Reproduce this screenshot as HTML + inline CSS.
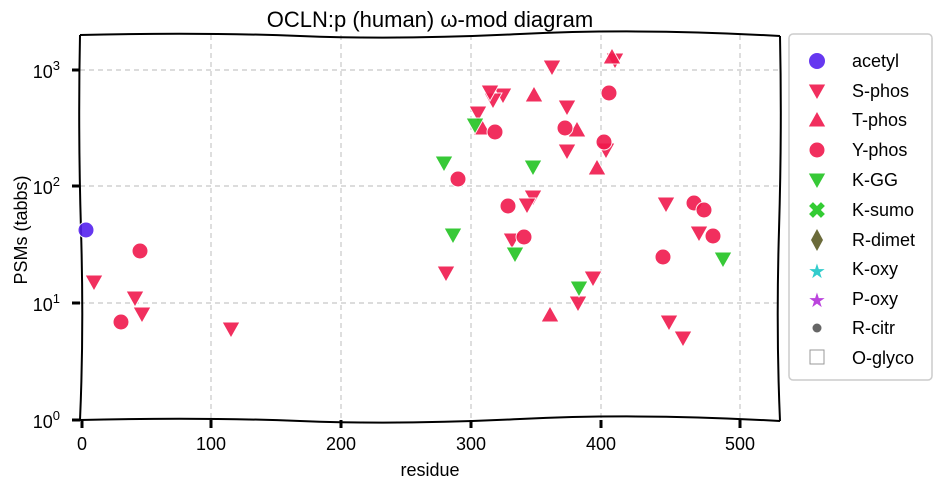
<!DOCTYPE html>
<html><head><meta charset="utf-8"><style>
body{margin:0;background:#fff;}
svg{display:block;font-family:"Comic Sans MS","Liberation Sans",sans-serif;}
</style></head><body>
<svg width="941" height="492" viewBox="0 0 941 492">
<defs>
<g id="dt"><polygon points="-9,-7 9,-7 0,9" fill="#f0194d" stroke="#fff" stroke-width="1" opacity="0.9"/></g>
<g id="ut"><polygon points="-9,7 9,7 0,-9" fill="#f0194d" stroke="#fff" stroke-width="1" opacity="0.9"/></g>
<g id="gt"><polygon points="-9,-7 9,-7 0,9" fill="#22c422" stroke="#fff" stroke-width="1" opacity="0.9"/></g>
<g id="rc"><circle r="8" fill="#f0194d" stroke="#fff" stroke-width="1" opacity="0.9"/></g>
</defs>
<g stroke="#c8c8c8" stroke-dasharray="5,4" stroke-width="1.2" fill="none">
<line x1="211" y1="35" x2="211" y2="420"/><line x1="341" y1="35" x2="341" y2="420"/>
<line x1="471" y1="35" x2="471" y2="420"/><line x1="601" y1="35" x2="601" y2="420"/>
<line x1="740" y1="35" x2="740" y2="420"/>
<line x1="80" y1="70" x2="780" y2="70"/><line x1="80" y1="186" x2="780" y2="186"/>
<line x1="80" y1="303" x2="780" y2="303"/>
</g>
<g stroke="#000" stroke-width="2" fill="none">
<path d="M80,35 Q200,32 300,36 T520,34 T780,36"/>
<path d="M80,420 Q200,417 300,421 T520,419 T780,421"/>
<path d="M80,35 Q78,130 81,230 T80,420"/>
<path d="M780,36 Q782,130 779,230 T780,421"/>
</g>
<g stroke="#000" stroke-width="3">
<line x1="82" y1="420" x2="82" y2="428"/><line x1="211" y1="420" x2="211" y2="428"/>
<line x1="341" y1="420" x2="341" y2="428"/><line x1="471" y1="420" x2="471" y2="428"/>
<line x1="601" y1="420" x2="601" y2="428"/><line x1="740" y1="420" x2="740" y2="428"/>
<line x1="72" y1="420" x2="80" y2="420"/><line x1="72" y1="303" x2="80" y2="303"/>
<line x1="72" y1="186" x2="80" y2="186"/><line x1="72" y1="70" x2="80" y2="70"/>
</g>
<g font-size="18" fill="#000" text-anchor="middle">
<text x="82" y="450">0</text><text x="211" y="450">100</text><text x="341" y="450">200</text>
<text x="471" y="450">300</text><text x="601" y="450">400</text><text x="740" y="450">500</text>
</g>
<g font-size="18" fill="#000" text-anchor="end">
<text x="60" y="428">10<tspan font-size="13" dy="-8">0</tspan></text>
<text x="60" y="311">10<tspan font-size="13" dy="-8">1</tspan></text>
<text x="60" y="194">10<tspan font-size="13" dy="-8">2</tspan></text>
<text x="60" y="78">10<tspan font-size="13" dy="-8">3</tspan></text>
</g>
<text x="430" y="476" font-size="18" text-anchor="middle">residue</text>
<text x="27" y="230" font-size="18" text-anchor="middle" transform="rotate(-90 27 230)">PSMs (tabbs)</text>
<text x="430" y="27" font-size="22" text-anchor="middle">OCLN:p (human) ω-mod diagram</text>
<circle cx="86" cy="230" r="8" fill="#5522ee" opacity="0.9" stroke="#fff"/>
<use href="#rc" x="140" y="251"/><use href="#dt" x="94" y="282"/><use href="#dt" x="135" y="298"/>
<use href="#dt" x="142" y="314"/><use href="#rc" x="121" y="322"/><use href="#dt" x="231" y="329"/>
<use href="#dt" x="552" y="67"/><use href="#dt" x="503" y="95"/><use href="#dt" x="493" y="100"/>
<use href="#dt" x="490" y="92"/><use href="#dt" x="478" y="113"/><use href="#dt" x="567" y="107"/>
<use href="#dt" x="567" y="151"/><use href="#dt" x="533" y="197"/><use href="#dt" x="527" y="205"/>
<use href="#dt" x="446" y="273"/><use href="#dt" x="593" y="278"/><use href="#dt" x="578" y="303"/>
<use href="#dt" x="615" y="60"/><use href="#dt" x="606" y="150"/><use href="#dt" x="512" y="240"/>
<use href="#ut" x="612" y="57"/><use href="#ut" x="534" y="95"/><use href="#ut" x="577" y="130"/>
<use href="#ut" x="482" y="128"/><use href="#ut" x="597" y="168"/><use href="#ut" x="550" y="315"/>
<use href="#rc" x="609" y="93"/><use href="#rc" x="495" y="132"/><use href="#rc" x="458" y="179"/>
<use href="#rc" x="565" y="128"/><use href="#rc" x="604" y="142"/><use href="#rc" x="508" y="206"/>
<use href="#rc" x="524" y="237"/>
<use href="#gt" x="444" y="163"/><use href="#gt" x="453" y="235"/><use href="#gt" x="475" y="125"/>
<use href="#gt" x="533" y="167"/><use href="#gt" x="515" y="254"/><use href="#gt" x="579" y="288"/>
<use href="#dt" x="666" y="204"/><use href="#rc" x="694" y="203"/><use href="#rc" x="704" y="210"/>
<use href="#dt" x="699" y="233"/><use href="#rc" x="713" y="236"/><use href="#gt" x="723" y="259"/>
<use href="#rc" x="663" y="257"/><use href="#dt" x="669" y="322"/><use href="#dt" x="683" y="338"/>
<rect x="789" y="34" width="143" height="346" rx="4" fill="#fff" stroke="#ccc" stroke-width="1.5"/>
<g font-size="18" fill="#000">
<circle cx="817" cy="61" r="8" fill="#5522ee" opacity="0.9"/><text x="852" y="67">acetyl</text>
<use href="#dt" x="817" y="91"/><text x="852" y="97">S-phos</text>
<use href="#ut" x="817" y="120"/><text x="852" y="126">T-phos</text>
<use href="#rc" x="817" y="150"/><text x="852" y="156">Y-phos</text>
<use href="#gt" x="817" y="180"/><text x="852" y="186">K-GG</text>
<text x="817" y="218" fill="#33cc33" font-size="22" font-weight="bold" text-anchor="middle">✖</text><text x="852" y="216">K-sumo</text>
<polygon points="817,229 823,240 817,251 811,240" fill="#6b6b3a"/><text x="852" y="246">R-dimet</text>
<text x="817" y="278" fill="#33cccc" font-size="20" text-anchor="middle">★</text><text x="852" y="275">K-oxy</text>
<text x="817" y="307" fill="#bb44dd" font-size="20" text-anchor="middle">★</text><text x="852" y="305">P-oxy</text>
<circle cx="817" cy="328" r="4.5" fill="#666"/><text x="852" y="334">R-citr</text>
<rect x="810" y="350" width="14" height="14" fill="#fff" stroke="#999"/><text x="852" y="364">O-glyco</text>
</g>
</svg>
</body></html>
